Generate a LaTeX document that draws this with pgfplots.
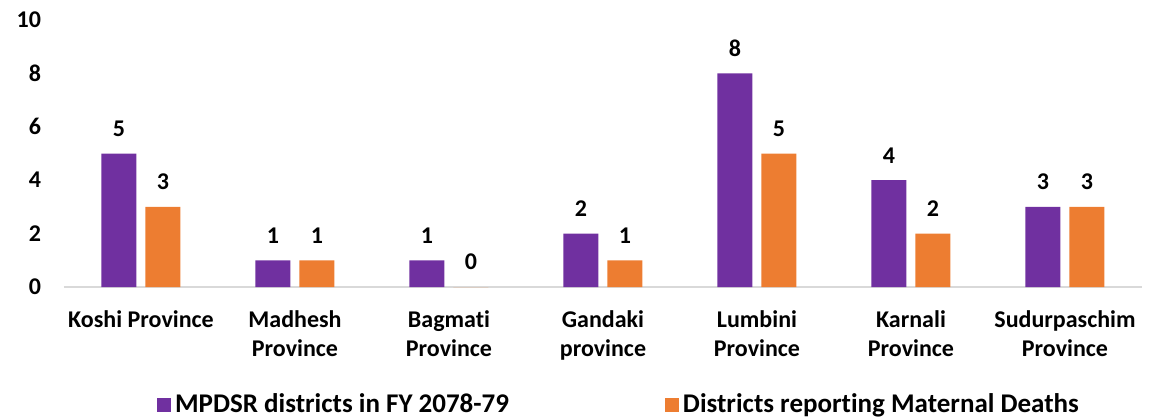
\documentclass[border=0pt]{standalone}
\usepackage{pgfplots}
\pgfplotsset{compat=1.18}
\usepackage{fontspec}
\setmainfont{Carlito}[Ligatures=NoCommon]
\definecolor{cpurple}{HTML}{7030A0}
\definecolor{corange}{HTML}{ED7D31}
\definecolor{caxis}{HTML}{D9D9D9}
\begin{document}
\begin{tikzpicture}
\path[use as bounding box] (0,0) rectangle (576pt,209.5pt);
\begin{axis}[
  at={(32pt,66pt)}, anchor=south west,
  scale only axis, width=539pt, height=133.5pt,
  ybar, bar width=17.5pt,
  xmin=-0.5, xmax=6.5, ymin=0, ymax=10,
  ytick={0,2,4,6,8,10},
  xtick=data,
  xticklabels={Koshi Province, Madhesh\\Province, Bagmati\\Province, Gandaki\\province, Lumbini\\Province, Karnali\\Province, Sudurpaschim\\Province},
  xticklabel style={align=center, font=\bfseries\fontsize{12pt}{14.2pt}\selectfont, yshift=-8.5pt},
  yticklabel style={font=\bfseries\fontsize{12pt}{14pt}\selectfont, xshift=-8pt},
  /pgf/number format/assume math mode=true,
  axis x line*=bottom,
  axis y line=left,
  y axis line style={draw=none},
  x axis line style={draw=caxis, line width=1pt, -},
  major tick length=0pt,
  tick style={draw=none},
  nodes near coords,
  every node near coord/.append style={font=\bfseries\fontsize{12pt}{14pt}\selectfont, yshift=5pt, text=black},
  legend columns=2,
  legend style={at={(0.5,0)}, anchor=center, yshift=-59pt, xshift=8.5pt, draw=none, fill=none,
    font=\bfseries\fontsize{13.5pt}{15pt}\selectfont,
    /tikz/every even column/.append style={column sep=76pt}},
  legend image code/.code={\fill[#1] (0pt,-3.5pt) rectangle (7pt,3.5pt);},
  clip=false,
]
\addplot[fill=cpurple, draw=none, bar shift=-11pt] coordinates {(0,5) (1,1) (2,1) (3,2) (4,8) (5,4) (6,3)};
\addplot[fill=corange, draw=none, bar shift=11pt] coordinates {(0,3) (1,1) (2,0) (3,1) (4,5) (5,2) (6,3)};
\legend{MPDSR districts in FY 2078-79, Districts reporting Maternal Deaths}
\end{axis}
\end{tikzpicture}
\end{document}
